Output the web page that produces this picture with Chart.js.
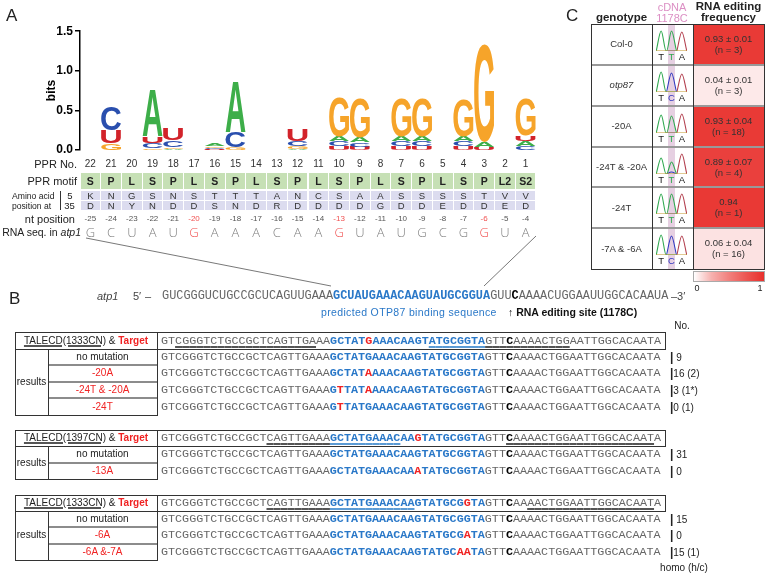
<!DOCTYPE html>
<html>
<head>
<meta charset="utf-8">
<script src="https://cdn.jsdelivr.net/npm/chart.js@4.4.1/dist/chart.umd.min.js"></script>
<style>
  body { margin:0; width:767px; height:573px; overflow:hidden; background:#fff; position:relative;
         font-family:"Liberation Sans", Arial, sans-serif; color:#222; }
  .a { position:absolute; white-space:nowrap; line-height:1; }
  .bx { position:absolute; box-sizing:border-box; }
  canvas { position:absolute; }
  .seq { position:absolute; white-space:pre; font-family:"Liberation Mono", monospace; line-height:14px; color:#666; }
  .bl { color:#2a78c8; font-weight:bold; }
  .es { color:#000; font-weight:bold; }
  .mu { color:#f02323; font-weight:bold; }
  .ug { text-decoration:underline; text-decoration-color:#555; text-decoration-thickness:2px; text-underline-offset:2px; }
  .ub { text-decoration:underline; text-decoration-color:#5b9bd5; text-decoration-thickness:2px; text-underline-offset:2px; }
  .red { color:#f02323; }
</style>
</head>
<body>
<canvas id="logo" width="536" height="137" style="left:0;top:22px"></canvas>
<canvas id="heat" width="71" height="245" style="left:693px;top:24px"></canvas>
<svg width="767" height="573" style="position:absolute;left:0;top:0">
  <line x1="86" y1="238" x2="331" y2="286" stroke="#555" stroke-width="0.8"/>
  <line x1="536" y1="236" x2="484" y2="286" stroke="#555" stroke-width="0.8"/>
</svg>
<script>
// ===== Panel A data =====
const PPR_NO    = ['22','21','20','19','18','17','16','15','14','13','12','11','10','9','8','7','6','5','4','3','2','1'];
const PPR_MOTIF = ['S','P','L','S','P','L','S','P','L','S','P','L','S','P','L','S','P','L','S','P','L2','S2'];
const AA_5      = ['K','N','G','S','N','S','T','T','T','A','N','C','S','A','A','S','S','S','S','T','V','V'];
const AA_35     = ['D','N','Y','N','D','D','S','N','D','R','D','D','D','D','G','D','D','E','D','D','E','D'];
const NT_POS    = [-25,-24,-23,-22,-21,-20,-19,-18,-17,-16,-15,-14,-13,-12,-11,-10,-9,-8,-7,-6,-5,-4];
const RNA_NT    = ['G','C','U','A','U','G','A','A','A','C','A','A','G','U','A','U','G','C','G','G','U','A'];
const TARGET_NT = [-20,-13,-6];

// information content (bits) per letter, positions 22 -> 1
const BITS_A = [0,0,0,0.59,0.012,0,0.035,0.64,0,0,0.015,0,0.065,0.06,0,0.065,0.065,0,0.065,0.07,0,0.06];
const BITS_C = [0,0.295,0,0.07,0.085,0,0.014,0.2,0,0,0.07,0,0.06,0.055,0,0.06,0.06,0,0.06,0,0,0.045];
const BITS_G = [0,0.08,0,0.02,0.02,0,0.016,0.03,0,0,0.03,0,0.49,0.49,0,0.48,0.48,0,0.47,1.24,0,0.46];
const BITS_U = [0,0.16,0,0.08,0.15,0,0.012,0,0,0,0.14,0,0.045,0.04,0,0.045,0.045,0,0.045,0.03,0,0.07];

// ===== Panel B data =====
const SEQ_DNA = 'GTCGGGTCTGCCGCTCAGTTGAAAGCTATGAAACAAGTATGCGGTAGTTCAAAACTGGAATTGGCACAATA';
const SEQ_RNA = 'GUCGGGUCUGCCGCUCAGUUGAAAGCUAUGAAACAAGUAUGCGGUAGUUCAAAACUGGAAUUGGCACAAUA';
const BIND_START = 24, BIND_END = 45, EDIT_SITE = 49;

const T1_RESULTS = ['no mutation','-20A','-24T & -20A','-24T'];
const T1_COUNTS  = ['| 9','|16 (2)','|3 (1*)','|0 (1)'];
const T2_RESULTS = ['no mutation','-13A'];
const T2_COUNTS  = ['| 31','| 0'];
const T3_RESULTS = ['no mutation','-6A','-6A &-7A'];
const T3_COUNTS  = ['| 15','| 0','|15 (1)'];

// ===== Panel C data =====
const GENOTYPES = ['Col-0','otp87','-20A','-24T & -20A','-24T','-7A & -6A'];
const FREQ_MEAN = [0.93,0.04,0.93,0.89,0.94,0.06];
const FREQ_SD   = [0.01,0.01,0.04,0.07,null,0.04];
const FREQ_N    = [3,3,18,4,1,16];
// chromatogram peak heights (T at 1st base, middle T / C, A at 3rd base)
const CHROM_T1  = [1.0,1.0,0.9,0.8,1.0,1.0];
const CHROM_T2  = [1.0,0.0,0.85,0.6,1.0,0.0];
const CHROM_C2  = [0.0,0.95,0.0,0.1,0.0,0.95];
const CHROM_A3  = [0.95,0.9,0.95,1.0,1.0,0.95];
const CHROM_MID = ['T','C','T','T','T','C'];

const FONT = '"Liberation Sans", Arial, sans-serif';
const LETTER_COLORS = { A:'#3dae49', C:'#2a4fae', G:'#f6a42a', U:'#d2232a' };
const BITS = { A:BITS_A, C:BITS_C, G:BITS_G, U:BITS_U };
Chart.defaults.font.family = FONT;

// ===== Utilities =====
function put(html, x, y, style = {}, align = 'left') {
  const d = document.createElement('div');
  d.className = 'a';
  d.innerHTML = html;
  d.style.left = x + 'px'; d.style.top = y + 'px';
  const tx = align === 'center' ? '-50%' : align === 'right' ? '-100%' : '0';
  d.style.transform = `translate(${tx},-50%)`;
  Object.assign(d.style, style);
  document.body.appendChild(d);
  return d;
}
function box(x, y, w, h, style = {}) {
  const d = document.createElement('div');
  d.className = 'bx';
  Object.assign(d.style, { left:x+'px', top:y+'px', width:w+'px', height:h+'px' }, style);
  document.body.appendChild(d);
  return d;
}
function drawGlyph(ctx, ch, x0, y0, w, h, color) {
  if (h < 0.3) return;
  const m = ctx.measureText(ch);
  const gw = m.actualBoundingBoxLeft + m.actualBoundingBoxRight;
  const gh = m.actualBoundingBoxAscent + m.actualBoundingBoxDescent;
  ctx.save();
  ctx.translate(x0, y0);
  ctx.scale(w / gw, h / gh);
  ctx.fillStyle = color;
  ctx.textAlign = 'left'; ctx.textBaseline = 'alphabetic';
  ctx.fillText(ch, m.actualBoundingBoxLeft, m.actualBoundingBoxAscent);
  ctx.restore();
}
function heatColor(v) {
  const t = Math.pow(v, 0.7);
  const c = [255 + (232-255)*t, 255 + (48-255)*t, 255 + (44-255)*t].map(Math.round);
  return `rgb(${c.join(',')})`;
}
function parseEdits(label) {
  const m = new Map();
  for (const r of label.matchAll(/-(\d+)([ACGT])/g)) m.set(EDIT_SITE - Number(r[1]), r[2]);
  return m;
}

// ===== Panel A: sequence logo =====
const logoLetters = {
  id: 'logoLetters',
  afterDatasetsDraw(chart) {
    const { ctx, scales: { x, y } } = chart;
    const colW = Math.abs(x.getPixelForValue(1) - x.getPixelForValue(0));
    ctx.save();
    ctx.font = `bold 100px ${FONT}`;
    PPR_NO.forEach((_, i) => {
      const stack = Object.keys(BITS).map(l => ({ l, h: BITS[l][i] }))
        .filter(s => s.h > 0).sort((a, b) => a.h - b.h);
      const cx = x.getPixelForValue(i);
      let base = 0;
      stack.forEach(s => {
        const yb = y.getPixelForValue(base), yt = y.getPixelForValue(base + s.h);
        drawGlyph(ctx, s.l, cx - colW * 0.48, yt, colW * 0.96, yb - yt, LETTER_COLORS[s.l]);
        base += s.h;
      });
    });
    ctx.restore();
  }
};

new Chart(document.getElementById('logo'), {
  type: 'bar',
  data: {
    labels: PPR_NO,
    datasets: Object.keys(BITS).map(l => ({ label: l, data: BITS[l], backgroundColor: 'rgba(0,0,0,0)', stack: 's' }))
  },
  options: {
    responsive: false, animation: false,
    layout: { padding: { top: 8, bottom: 7, left: 0, right: 0 } },
    plugins: { legend: { display: false }, tooltip: { enabled: false } },
    scales: {
      x: { display: false, stacked: true, offset: true },
      y: {
        stacked: true, min: 0, max: 1.5,
        ticks: { stepSize: 0.5, callback: v => v.toFixed(1), color: '#000', padding: 2,
                 font: { size: 12, weight: 'bold' } },
        grid: { drawOnChartArea: false, tickLength: 5, color: '#000', lineWidth: 1.5 },
        border: { color: '#000', width: 1.5 },
        title: { display: true, text: 'bits', color: '#000', font: { size: 12, weight: 'bold' },
                 padding: { top: 44, bottom: 0 } },
        afterFit(s) { s.width = 80; }
      }
    }
  },
  plugins: [logoLetters]
});

put('A', 6, 15, { fontSize: '17px' });

const COL_X0 = 80, COL_W = 456 / 22;
const cx = i => COL_X0 + (i + 0.5) * COL_W;
put('PPR No.', 77, 164, { fontSize: '11px' }, 'right');
put('PPR motif', 77, 181, { fontSize: '11px' }, 'right');
put('Amino acid', 12, 195.5, { fontSize: '8.6px' });
put('position at', 12, 205.5, { fontSize: '8.6px' });
box(60, 191, 1, 19, { background: '#333' });
put('5', 70, 195.5, { fontSize: '9.5px' }, 'center');
put('35', 69.5, 205.5, { fontSize: '9.5px' }, 'center');
put('nt position', 75, 219, { fontSize: '11px' }, 'right');
put('RNA seq. in <i>atp1</i>', 81, 232, { fontSize: '10.5px' }, 'right');

PPR_NO.forEach((n, i) => {
  const x0 = COL_X0 + i * COL_W;
  put(n, cx(i), 164, { fontSize: '10px', color: '#333' }, 'center');
  box(x0 + 0.5, 173, COL_W - 1, 16, { background: '#c6e0b5' });
  put(PPR_MOTIF[i], cx(i), 181, { fontSize: '10.5px', fontWeight: 'bold', color: '#222' }, 'center');
  box(x0 + 0.5, 190.5, COL_W - 1, 9, { background: '#dcdcef' });
  box(x0 + 0.5, 200.5, COL_W - 1, 9.5, { background: '#dcdcef' });
  put(AA_5[i], cx(i), 195.5, { fontSize: '9.5px', color: '#333' }, 'center');
  put(AA_35[i], cx(i), 205.5, { fontSize: '9.5px', color: '#333' }, 'center');
  const hot = TARGET_NT.includes(NT_POS[i]);
  put(String(NT_POS[i]), cx(i), 219, { fontSize: '8px', color: hot ? '#f05050' : '#555' }, 'center');
  put(RNA_NT[i], cx(i), 232, { fontSize: '13px', fontWeight: '300', fontFamily: '"Open Sans", sans-serif',
      color: hot ? '#f05050' : '#808080' }, 'center');
});

// ===== Panel B =====
put('B', 9, 298, { fontSize: '17px' });
put('<i>atp1</i>', 97, 296, { fontSize: '11px', color: '#444' });
put('5′', 133, 296, { fontSize: '11px', color: '#444' });
put('–', 145, 296, { fontSize: '11px', color: '#444' });

function seqLine(seq, x, y, size, opts = {}) {
  const edits = opts.edits || new Map();
  const ul = opts.ul || [];
  let html = '';
  for (let i = 0; i < seq.length; i++) {
    let ch = seq[i];
    const cls = [];
    const inBind = i >= BIND_START && i <= BIND_END;
    if (inBind) cls.push('bl');
    if (i === EDIT_SITE) cls.push('es');
    if (edits.has(i)) { ch = edits.get(i); cls.push('mu'); }
    if (ul.some(([a, b]) => i >= a && i <= b)) cls.push(inBind ? 'ub' : 'ug');
    html += cls.length ? `<span class="${cls.join(' ')}">${ch}</span>` : ch;
  }
  const d = document.createElement('div');
  d.className = 'seq';
  d.style.left = x + 'px'; d.style.top = (y - 7) + 'px'; d.style.fontSize = size + 'px';
  d.innerHTML = html;
  document.body.appendChild(d);
}
seqLine(SEQ_RNA, 162, 296, 11.88);
put('–3′', 671, 296, { fontSize: '11px', color: '#444' });
put('predicted OTP87 binding sequence', 321, 312, { fontSize: '10.5px', color: '#2a78c8', letterSpacing: '0.35px' });
put('↑ RNA editing site (1178C)', 508, 312, { fontSize: '10.5px', color: '#111', fontWeight: 'bold' });

const SEQ_X = 161, SEQ_FS = 11.72;
function taleTable(top, rowsH, name, targetPos, ul, results, counts) {
  const hdrB = top + 16.5;
  // header box
  box(15, top, 651, hdrB - top + 1, { border: '1px solid #333' });
  box(157, top, 1, hdrB - top, { background: '#333' });
  put(`<span style="text-decoration:underline;text-decoration-thickness:2px;text-decoration-color:#555">${name}</span> &amp; <b class="red">Target</b>`,
      86, top + 8.5, { fontSize: '10px' }, 'center');
  seqLine(SEQ_DNA, SEQ_X, top + 8.5, SEQ_FS, { edits: new Map([[EDIT_SITE + targetPos, SEQ_DNA[EDIT_SITE + targetPos]]]), ul });
  // results block
  const bot = hdrB + rowsH * results.length;
  box(15, hdrB, 143, bot - hdrB + 1, { borderLeft: '1px solid #333', borderRight: '1px solid #333', borderBottom: '1px solid #333' });
  box(48, hdrB, 1, bot - hdrB, { background: '#333' });
  put('results', 31.5, (hdrB + bot) / 2, { fontSize: '10px' }, 'center');
  results.forEach((r, k) => {
    const yc = hdrB + rowsH * (k + 0.5);
    if (k > 0) box(49, hdrB + rowsH * k - 1, 108, 2, { background: '#8c8c8c' });
    put(r, 102.5, yc, { fontSize: '10px', color: k === 0 ? '#222' : '#f02323' }, 'center');
    seqLine(SEQ_DNA, SEQ_X, yc, SEQ_FS, { edits: parseEdits(r) });
    put(counts[k].replace('|', '<b style="font-size:12px">|</b>'), 670, yc, { fontSize: '10px', whiteSpace: 'pre', color: '#222' });
  });
}
put('No.', 682, 326, { fontSize: '10px' }, 'center');
taleTable(332, 16.6, 'TALECD(1333CN)', -20, [[2, 21], [38, 57]], T1_RESULTS, T1_COUNTS);
taleTable(429.5, 16.5, 'TALECD(1397CN)', -13, [[15, 33], [49, 69]], T2_RESULTS, T2_COUNTS);
taleTable(494.5, 16.3, 'TALECD(1333CN)', -6, [[15, 35], [52, 69]], T3_RESULTS, T3_COUNTS);
put('homo (h/c)', 684, 568, { fontSize: '10px' }, 'center');

// ===== Panel C =====
put('C', 566, 15, { fontSize: '17px' });
put('genotype', 621.5, 17.5, { fontSize: '11.5px', fontWeight: 'bold' }, 'center');
put('cDNA', 672, 7, { fontSize: '11px', color: '#dc8fc4' }, 'center');
put('1178C', 672, 18, { fontSize: '11px', color: '#dc8fc4' }, 'center');
put('RNA editing', 728.5, 7, { fontSize: '11.5px', fontWeight: 'bold' }, 'center');
put('frequency', 728.5, 18, { fontSize: '11.5px', fontWeight: 'bold' }, 'center');

const C_TOP = 24, C_BOT = 269, C_ROW = (C_BOT - C_TOP) / GENOTYPES.length;
box(667.5, C_TOP, 7.5, C_BOT - C_TOP, { background: 'rgba(200,150,190,0.45)' });

const heatLabels = {
  id: 'heatLabels',
  afterDatasetsDraw(chart) {
    const { ctx } = chart;
    ctx.save();
    ctx.font = `9.5px ${FONT}`;
    ctx.fillStyle = '#333';
    ctx.textAlign = 'center'; ctx.textBaseline = 'middle';
    chart.getDatasetMeta(0).data.forEach((bar, i) => {
      const mx = (bar.x + bar.base) / 2;
      const l1 = FREQ_SD[i] == null ? FREQ_MEAN[i].toFixed(2) : `${FREQ_MEAN[i].toFixed(2)} ± ${FREQ_SD[i].toFixed(2)}`;
      ctx.fillText(l1, mx, bar.y - 5);
      ctx.fillText(`(n = ${FREQ_N[i]})`, mx, bar.y + 6);
    });
    ctx.restore();
  }
};
new Chart(document.getElementById('heat'), {
  type: 'bar',
  data: {
    labels: GENOTYPES,
    datasets: [{ data: GENOTYPES.map(() => [0, 1]), backgroundColor: FREQ_MEAN.map(heatColor),
                 borderWidth: 0, barPercentage: 1, categoryPercentage: 1 }]
  },
  options: {
    indexAxis: 'y', responsive: false, animation: false,
    layout: { padding: 0 },
    plugins: { legend: { display: false }, tooltip: { enabled: false } },
    scales: { x: { display: false, min: 0, max: 1 }, y: { display: false } }
  },
  plugins: [heatLabels]
});

// chromatograms
const chromBases = {
  id: 'chromBases',
  afterDraw(chart, args, opts) {
    const { ctx, chartArea, scales: { x } } = chart;
    ctx.save();
    ctx.font = `9.5px ${FONT}`;
    ctx.textAlign = 'center'; ctx.textBaseline = 'middle';
    opts.bases.forEach((b, k) => {
      ctx.fillStyle = k === 1 ? (b === 'C' ? '#3038c0' : '#2fa84f') : '#222';
      ctx.fillText(b, x.getPixelForValue(k + 0.5), chartArea.bottom + 6);
    });
    ctx.restore();
  }
};
function peakPts(peaks) {
  const pts = [];
  peaks.forEach(([p, h]) => { pts.push({ x: p - 0.48, y: 0 }, { x: p, y: h }, { x: p + 0.48, y: 0 }); });
  return pts;
}
GENOTYPES.forEach((g, i) => {
  const top = C_TOP + C_ROW * i;
  const cv = document.createElement('canvas');
  cv.width = 32; cv.height = 36;
  cv.style.left = '655px'; cv.style.top = (top + 4) + 'px';
  document.body.appendChild(cv);
  const line = (data, color) => ({ data, borderColor: color, borderWidth: 1.1, pointRadius: 0,
                                     cubicInterpolationMode: 'monotone', fill: false });
  new Chart(cv, {
    type: 'line',
    data: { datasets: [
      line([{ x: 0, y: 0 }, { x: 3, y: 0 }], '#c8a03c'),
      line(peakPts([[0.5, CHROM_T1[i]], [1.5, CHROM_T2[i]]]), '#2fa84f'),
      line(peakPts([[1.5, CHROM_C2[i]]]), '#3038c0'),
      line(peakPts([[2.5, CHROM_A3[i]]]), '#b3404f')
    ] },
    options: {
      responsive: false, animation: false,
      layout: { padding: { top: 2, bottom: 13, left: 1, right: 0 } },
      plugins: { legend: { display: false }, tooltip: { enabled: false }, chromBases: { bases: ['T', CHROM_MID[i], 'A'] } },
      scales: { x: { type: 'linear', display: false, min: 0, max: 3 }, y: { display: false, min: 0, max: 1.05 } }
    },
    plugins: [chromBases]
  });
  put(g === 'otp87' ? '<i>otp87</i>' : g, 621.5, top + C_ROW / 2, { fontSize: '9.5px', color: '#333' }, 'center');
  if (i > 0) box(591, top - 1, 173, 2, { background: '#999' });
});
box(591, C_TOP, 174, C_BOT - C_TOP + 1, { border: '1px solid #333' });
box(652, C_TOP, 1, C_BOT - C_TOP, { background: '#333' });
box(693, C_TOP, 1, C_BOT - C_TOP, { background: '#333' });

// colour scale
box(693, 271, 72, 11, { border: '1px solid #aaa',
  background: `linear-gradient(to right, ${[0, 0.25, 0.5, 0.75, 1].map(heatColor).join(',')})` });
put('0', 697, 288, { fontSize: '9px' }, 'center');
put('1', 760, 288, { fontSize: '9px' }, 'center');
</script>
</body>
</html>
